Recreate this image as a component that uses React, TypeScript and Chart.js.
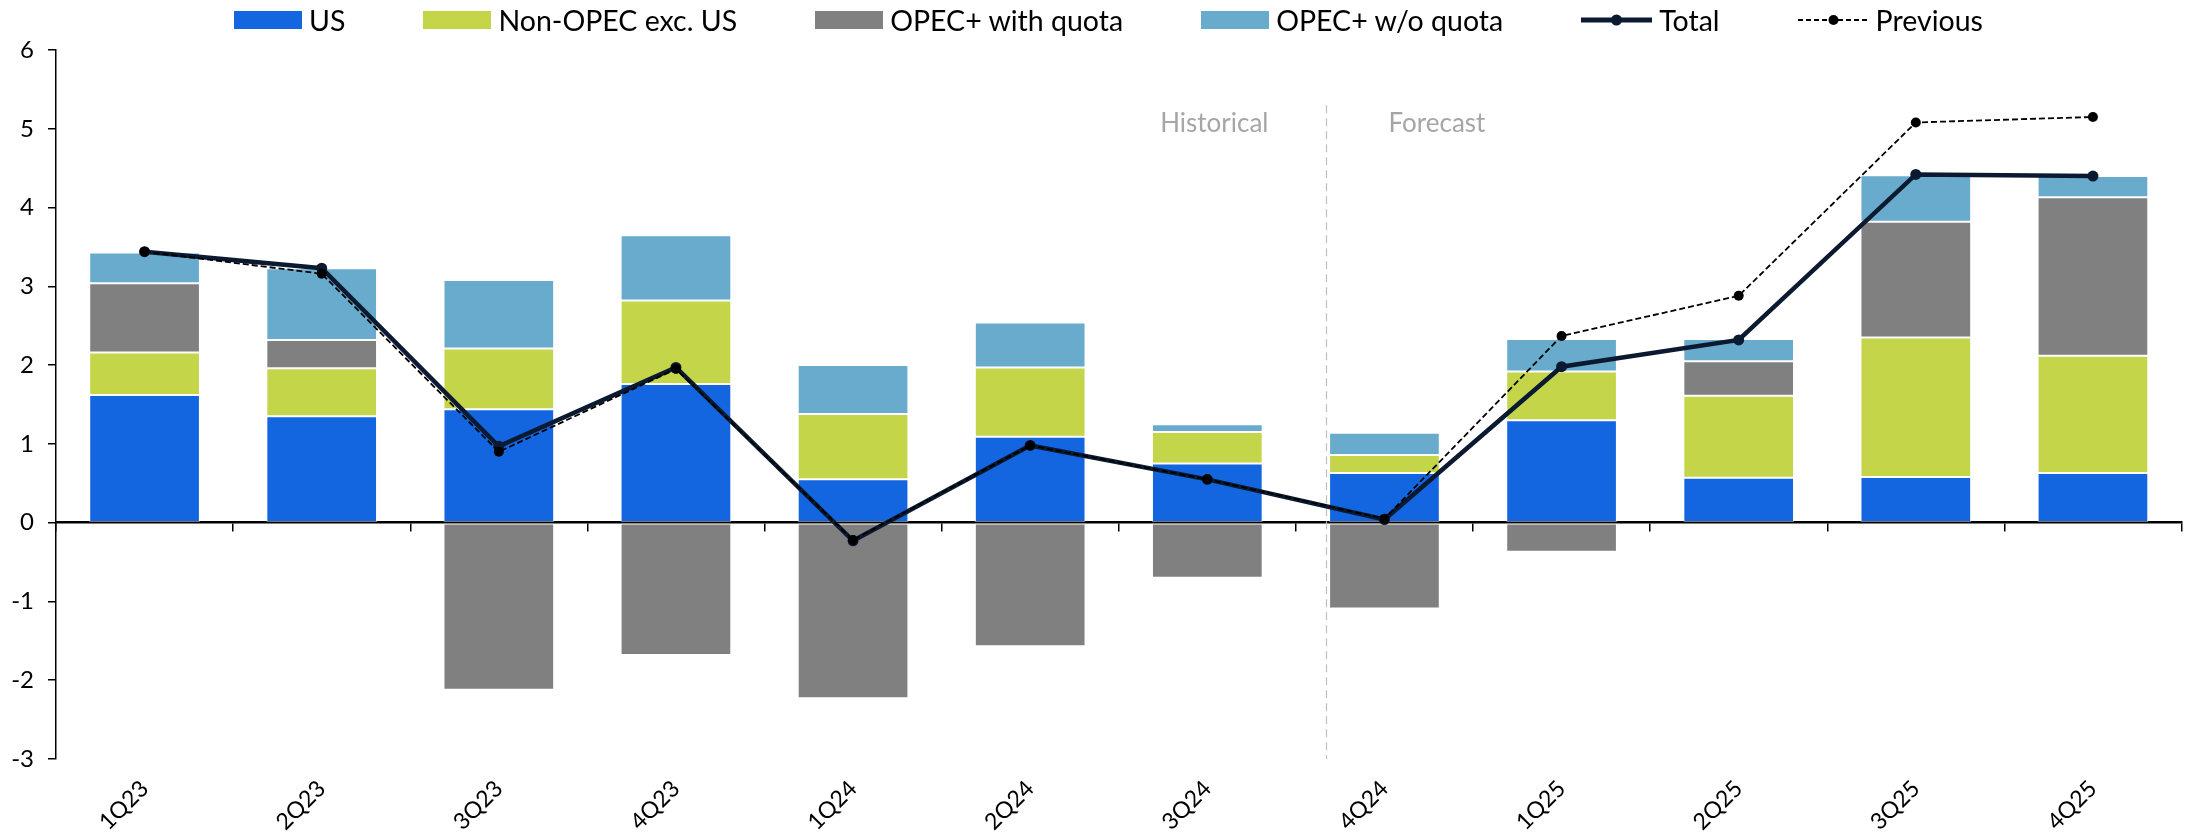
import React, { useEffect, useRef } from 'react';
import { Chart, registerables } from 'chart.js';

Chart.register(...registerables);

const FONT = "Lato, 'DejaVu Sans Condensed', sans-serif";

const categories = ['1Q23', '2Q23', '3Q23', '4Q23', '1Q24', '2Q24', '3Q24', '4Q24', '1Q25', '2Q25', '3Q25', '4Q25'];
const seriesNames = ['US', 'Non-OPEC exc. US', 'OPEC+ with quota', 'OPEC+ w/o quota', 'Total', 'Previous'];

const usValues = [1.62, 1.35, 1.44, 1.76, 0.55, 1.09, 0.75, 0.63, 1.3, 0.57, 0.58, 0.63];
const nonOpecValues = [0.54, 0.61, 0.77, 1.06, 0.83, 0.88, 0.4, 0.23, 0.62, 1.04, 1.77, 1.49];
const opecQuotaValues = [0.88, 0.36, -2.12, -1.68, -2.23, -1.57, -0.7, -1.09, -0.37, 0.44, 1.47, 2.01];
const opecNoQuotaValues = [0.39, 0.91, 0.87, 0.83, 0.62, 0.57, 0.1, 0.28, 0.41, 0.28, 0.59, 0.27];
const totalValues = [3.44, 3.23, 0.97, 1.97, -0.23, 0.98, 0.55, 0.04, 1.98, 2.32, 4.42, 4.4];
const previousValues = [3.44, 3.16, 0.9, 1.95, -0.22, 0.98, 0.55, 0.05, 2.37, 2.88, 5.08, 5.15];

const yTickMin = -3;
const yTickMax = 6;

const dividerLabels = ['Historical', 'Forecast'];
const DIVIDER_POS = 6.67; // category units
const DIVIDER_TOP = 5.3;
const DIVIDER_TEXT_Y = 5.07;

const COLORS = {
  us: '#1366E0',
  nonOpec: '#C4D54A',
  quota: '#808080',
  noQuota: '#68ABCD',
  total: '#0B1A30',
  previous: '#000000',
};

const barColors = [COLORS.us, COLORS.nonOpec, COLORS.quota, COLORS.noQuota];

const dividerPlugin = {
  id: 'divider',
  beforeDatasetsDraw(chart: any) {
    const { ctx, scales } = chart;
    const x = scales.x;
    const y = scales.y;
    const px = Math.round(x.getPixelForValue(DIVIDER_POS)) + 0.5;
    ctx.save();
    ctx.strokeStyle = '#BFBFBF';
    ctx.lineWidth = 1.2;
    ctx.setLineDash([8, 5]);
    ctx.beginPath();
    ctx.moveTo(px, y.getPixelForValue(DIVIDER_TOP));
    ctx.lineTo(px, y.getPixelForValue(yTickMin));
    ctx.stroke();
    ctx.setLineDash([]);
    ctx.fillStyle = '#A6A6A6';
    ctx.font = `26px ${FONT}`;
    ctx.textBaseline = 'middle';
    const ty = y.getPixelForValue(DIVIDER_TEXT_Y);
    ctx.textAlign = 'right';
    ctx.fillText(dividerLabels[0], px - 58, ty);
    ctx.textAlign = 'left';
    ctx.fillText(dividerLabels[1], px + 62, ty);
    ctx.restore();
  },
};

function Swatch({ idx }: { idx: number }) {
  if (idx < 4) {
    return <div style={{ width: 68, height: 18, background: barColors[idx] }} />;
  }
  const isTotal = idx === 4;
  return (
    <svg width={71} height={18} style={{ display: 'block' }}>
      <line
        x1={0}
        y1={9}
        x2={71}
        y2={9}
        stroke={isTotal ? COLORS.total : COLORS.previous}
        strokeWidth={isTotal ? 5 : 2}
        strokeDasharray={isTotal ? undefined : '5 3'}
      />
      <circle cx={35.5} cy={9} r={isTotal ? 5.5 : 5} fill={isTotal ? COLORS.total : COLORS.previous} />
    </svg>
  );
}

export default function App() {
  const canvasRef = useRef<HTMLCanvasElement | null>(null);

  useEffect(() => {
    if (!canvasRef.current) return;
    const barData = [usValues, nonOpecValues, opecQuotaValues, opecNoQuotaValues];
    const barDatasets = barData.map((vals, i) => ({
      type: 'bar' as const,
      label: seriesNames[i],
      data: vals,
      backgroundColor: barColors[i],
      borderColor: 'rgba(255,255,255,0.45)',
      borderWidth: 1,
      borderSkipped: false,
      stack: 'bars',
      order: 5,
      barPercentage: 0.625,
      categoryPercentage: 1,
    }));
    const chart = new Chart(canvasRef.current, {
      type: 'bar',
      data: {
        labels: categories,
        datasets: [
          ...barDatasets,
          {
            type: 'line' as const,
            label: seriesNames[4],
            data: totalValues,
            borderColor: COLORS.total,
            backgroundColor: COLORS.total,
            borderWidth: 4.5,
            pointRadius: 5.5,
            pointBorderWidth: 0,
            pointBackgroundColor: COLORS.total,
            tension: 0,
            fill: false,
            stack: 'total',
            order: 2,
          },
          {
            type: 'line' as const,
            label: seriesNames[5],
            data: previousValues,
            borderColor: COLORS.previous,
            backgroundColor: COLORS.previous,
            borderWidth: 1.8,
            borderDash: [6, 3],
            pointRadius: 5,
            pointBorderWidth: 0,
            pointBackgroundColor: COLORS.previous,
            tension: 0,
            fill: false,
            stack: 'prev',
            order: 1,
          },
        ] as any,
      },
      options: {
        responsive: false,
        animation: false,
        layout: { padding: { top: 42, right: 0, left: 0, bottom: 0 } },
        plugins: {
          legend: { display: false },
          tooltip: { enabled: false },
        },
        scales: {
          x: {
            type: 'category',
            position: 'bottom',
            stacked: true,
            grid: { display: false, drawTicks: false },
            border: { display: false },
            ticks: {
              maxRotation: 45,
              minRotation: 45,
              autoSkip: false,
              padding: 16,
              color: '#000',
              font: { family: FONT, size: 23 },
            },
            afterFit: (s: any) => {
              s.height = 73;
            },
          },
          xZero: {
            type: 'category',
            position: { y: 0 },
            offset: true,
            grid: {
              offset: true,
              drawOnChartArea: false,
              drawTicks: true,
              tickLength: 8,
              color: '#000',
              lineWidth: 1.5,
            },
            border: { display: true, color: '#000', width: 2.5 },
            ticks: { display: false },
          },
          y: {
            min: yTickMin,
            max: yTickMax,
            stacked: true,
            ticks: {
              stepSize: 1,
              color: '#000',
              font: { family: FONT, size: 24 },
              padding: 14,
            },
            grid: {
              drawOnChartArea: false,
              drawTicks: true,
              tickLength: 8,
              color: '#000',
              lineWidth: 1.5,
            },
            border: { display: true, color: '#000', width: 1.5 },
            afterFit: (s: any) => {
              s.width = 48;
            },
          },
        } as any,
      },
      plugins: [dividerPlugin],
    });
    return () => chart.destroy();
  }, []);

  return (
    <div style={{ position: 'relative', width: 2179, height: 824 }}>
      <canvas ref={canvasRef} width={2179} height={824} style={{ display: 'block' }} />
      <div
        style={{
          position: 'absolute',
          left: 226,
          top: 0,
          height: 24,
          display: 'flex',
          alignItems: 'center',
          fontFamily: FONT,
          fontSize: 28.5,
          color: '#000',
          whiteSpace: 'nowrap',
        }}
      >
        {seriesNames.map((name, i) => (
          <div key={name} style={{ display: 'flex', alignItems: 'center', marginRight: 78 }}>
            <Swatch idx={i} />
            <span style={{ marginLeft: 7, lineHeight: '24px' }}>{name}</span>
          </div>
        ))}
      </div>
    </div>
  );
}
